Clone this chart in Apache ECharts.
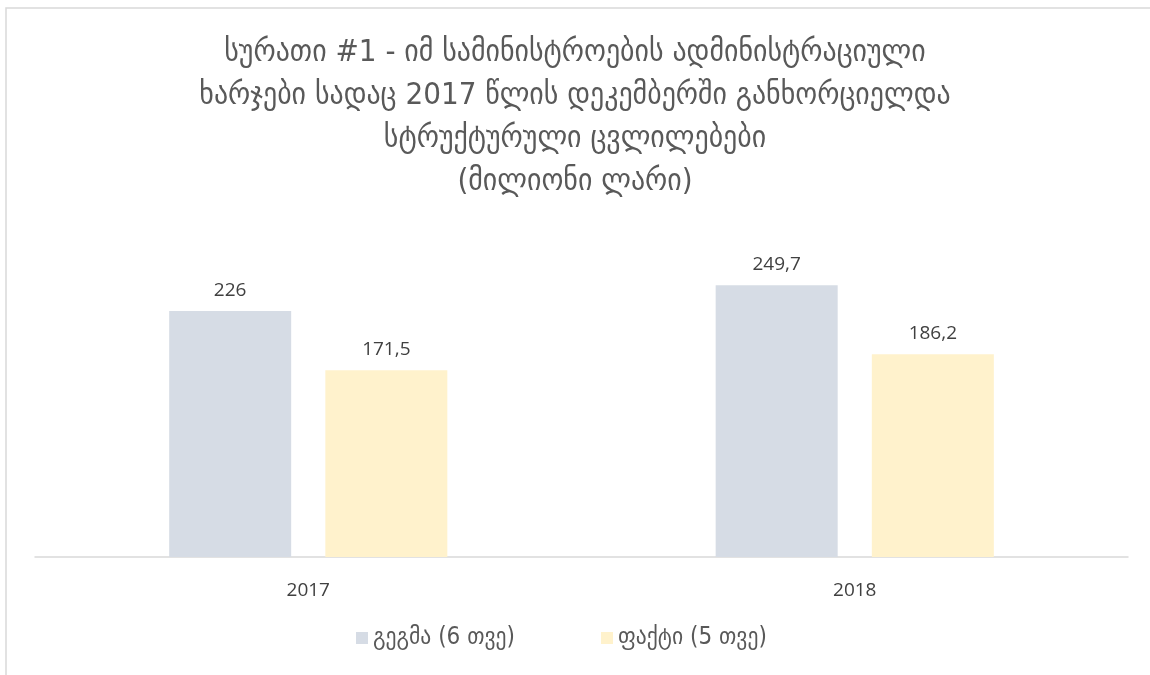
<!DOCTYPE html>
<html><head><meta charset="utf-8">
<script src="https://cdn.jsdelivr.net/npm/echarts@6/dist/echarts.min.js"></script>
<style>html,body{margin:0;padding:0;background:#fff}#c{width:1150px;height:675px}</style>
</head><body><div id="c"></div>
<script>
const titleText = "სურათი #1 - იმ სამინისტროების ადმინისტრაციული\nხარჯები სადაც 2017 წლის დეკემბერში განხორციელდა\nსტრუქტურული ცვლილებები\n(მილიონი ლარი)";
const categories = ["2017", "2018"];
const seriesNames = ["გეგმა (6 თვე)", "ფაქტი (5 თვე)"];
const planValues = [226, 249.7];
const factValues = [171.5, 186.2];
const colors = ["#d6dce5", "#fff2cc"];

const fmt = p => String(p.value).replace('.', ',');
const legendText = {fontFamily:'DejaVu Sans Condensed', fontSize:24, color:'#595959'};
const labelStyle = {show:true, position:'top', distance:11, formatter:fmt, fontFamily:'Open Sans', fontSize:19, color:'#404040'};
const chart = echarts.init(document.getElementById('c'));
chart.setOption({
  animation: false,
  graphic: [{type:'rect', shape:{x:6,y:8,width:1200,height:720}, style:{fill:'none', stroke:'#d9d9d9', lineWidth:1.5}, silent:true}],
  title: {text: titleText, left: 'center', top: 26,
    textStyle:{fontFamily:'DejaVu Sans Condensed', fontSize:31, fontWeight:'normal', color:'#595959', lineHeight:43}},
  legend: [
    {data:[seriesNames[0]], top:621, left:351, itemWidth:12, itemHeight:12, icon:'rect', itemGap:8, textStyle:legendText},
    {data:[seriesNames[1]], top:621, left:596, itemWidth:12, itemHeight:12, icon:'rect', itemGap:8, textStyle:legendText}
  ],
  grid: {left:35, right:22, top:230.5, bottom:118},
  xAxis: {type:'category', data:categories, axisTick:{show:false},
    axisLine:{lineStyle:{color:'#d9d9d9', width:1.5}},
    axisLabel:{margin:24, fontFamily:'Open Sans', fontSize:19, color:'#404040'}},
  yAxis: {type:'value', min:0, max:300, show:false, splitLine:{show:false}},
  series: [
    {name:seriesNames[0], type:'bar', data:planValues, barWidth:122, barGap:'28%', itemStyle:{color:colors[0]}, label:labelStyle},
    {name:seriesNames[1], type:'bar', data:factValues, barWidth:122, itemStyle:{color:colors[1]}, label:labelStyle}
  ]
});
</script></body></html>
